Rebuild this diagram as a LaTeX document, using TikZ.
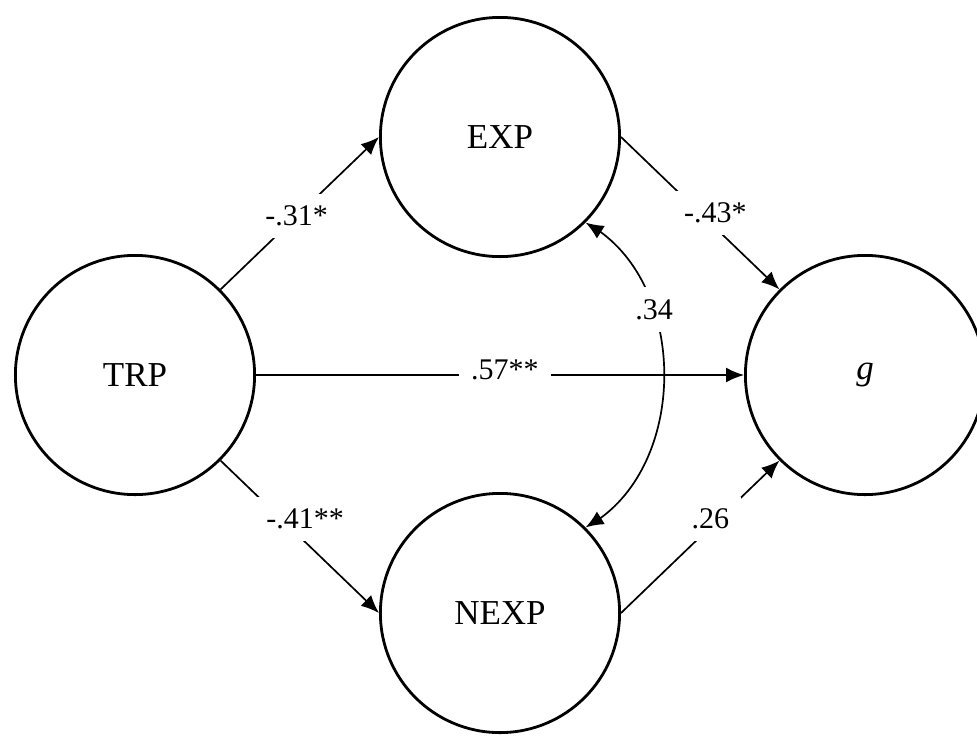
\documentclass[tikz,border=0pt]{standalone}
\usepackage{fontspec}
\setmainfont{Liberation Serif}
\usetikzlibrary{positioning}
\usetikzlibrary{arrows.meta,bending}

\tikzset{
  latent/.style={draw, circle, line width=1.4pt, minimum size=119.6pt, inner sep=0pt,
    font=\fontsize{17.5}{19}\selectfont},
  coef/.style={fill=white, inner sep=6pt, font=\fontsize{15}{17}\selectfont},
  path/.style={-{Latex[length=9pt,width=7.5pt]}, line width=0.85pt},
  cov/.style={{Latex[length=9pt,width=7.5pt]}-{Latex[length=9pt,width=7.5pt]}, line width=0.85pt},
}

\begin{document}
\begin{tikzpicture}
\useasboundingbox (-250pt,-180pt) rectangle (238.5pt,187.5pt);
\coordinate (middle) at (0,0);
\node[latent, above=58.5pt of middle] (exp) {EXP};
\node[latent, below=58.5pt of middle] (nexp) {NEXP};
\node[latent, left=122pt of middle] (trp) {TRP};
\node[latent, right=122pt of middle] (g) {\textit{g}};
\draw (trp.45) edge[path] node[coef, pos=.48] {-.31*} (exp.180)
      (trp) edge[path] node[coef, pos=.51, yshift=2.5pt] {.57**} (g)
      (trp.-45) edge[path] node[coef, pos=.47, xshift=5pt, yshift=6.5pt] {-.41**} (nexp.180)
      (exp.0) edge[path] node[coef, pos=.55, xshift=3.6pt, yshift=3.8pt] {-.43*} (g.135)
      (nexp.0) edge[path] node[coef, pos=.59, xshift=-2pt, yshift=2pt] {.26} (g.225);
\draw[cov] (exp.-45) to[bend left=62] node[coef, pos=.32] {.34} (nexp.45);
\end{tikzpicture}
\end{document}
